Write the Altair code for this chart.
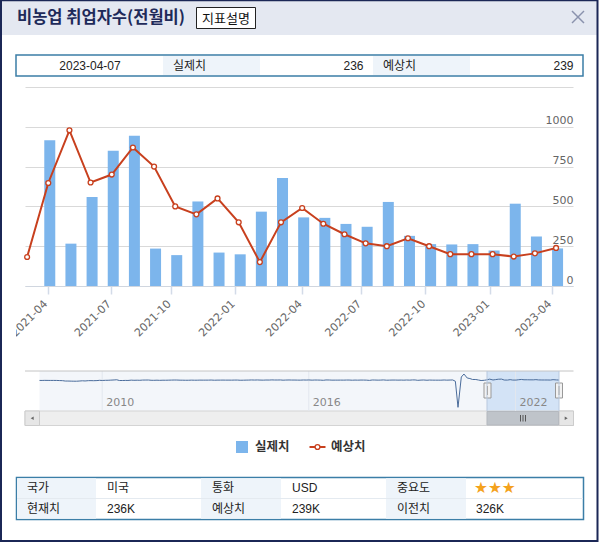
import altair as alt
import numpy as np
import pandas as pd

# ---------------------------------------------------------------------------
# Nonfarm payrolls, monthly change (thousands), indexed by release date
# ---------------------------------------------------------------------------
release_dates = [
    "2021-03-05", "2021-04-02", "2021-05-07", "2021-06-04", "2021-07-02",
    "2021-08-06", "2021-09-03", "2021-10-08", "2021-11-05", "2021-12-03",
    "2022-01-07", "2022-02-04", "2022-03-04", "2022-04-01", "2022-05-06",
    "2022-06-03", "2022-07-08", "2022-08-05", "2022-09-02", "2022-10-07",
    "2022-11-04", "2022-12-02", "2023-01-06", "2023-02-03", "2023-03-10",
    "2023-04-07",
]
actual = [379, 916, 266, 559, 850, 943, 235, 194, 531, 210,
          199, 467, 678, 431, 428, 390, 372, 528, 315, 263,
          261, 263, 223, 517, 311, 236]
forecast = [182, 647, 978, 650, 700, 870, 750, 500, 450, 550,
            400, 150, 400, 490, 391, 325, 268, 250, 300, 250,
            200, 200, 200, 185, 205, 239]
previous_value = 326

# Navigator history, one value per monthly release (Mar 2008 .. Feb 2021)
nav_2008 = [-63, -80, -20, -49, -62, -51, -84, -159, -240, -533]
nav_2009 = [-524, -598, -651, -663, -539, -345, -467, -247, -216, -263, -190, 11]
nav_2010 = [-85, 20, 36, 162, 290, 431, -125, -131, -54, -95, 151, 39]
nav_2011 = [103, 36, 192, 216, 244, 54, 18, 117, 0, 103, 80, 120]
nav_2012 = [200, 243, 227, 120, 115, 69, 80, 163, 96, 114, 171, 146]
nav_2013 = [155, 157, 236, 88, 165, 175, 195, 162, 169, 148, 204, 203]
nav_2014 = [74, 113, 175, 192, 288, 217, 288, 209, 142, 248, 214, 321]
nav_2015 = [252, 257, 295, 126, 223, 280, 223, 215, 173, 142, 271, 211]
nav_2016 = [292, 151, 242, 215, 160, 38, 287, 255, 151, 156, 161, 178]
nav_2017 = [156, 227, 235, 98, 211, 138, 222, 209, 156, -33, 261, 228]
nav_2018 = [148, 200, 313, 103, 164, 223, 213, 157, 201, 134, 250, 155]
nav_2019 = [312, 304, 20, 196, 263, 75, 224, 164, 130, 136, 128, 266]
nav_2020 = [145, 225, 273, -701, -20500, 2509, 4800, 1763, 1371, 661, 638, 245]
nav_2021 = [-140, 49]

x_tick_labels = ["2021-04", "2021-07", "2021-10", "2022-01", "2022-04",
                 "2022-07", "2022-10", "2023-01", "2023-04"]
nav_year_labels = ["2010", "2016", "2022"]

# ---------------------------------------------------------------------------
# Layout
# ---------------------------------------------------------------------------
OX, OY = 25, 87          # top-left of the main plot area
W, H = 548, 199
FONT = "Liberation Sans, Noto Sans CJK KR"
KFONT = "Noto Sans CJK KR"
AXFONT = "DejaVu Sans"
BAR = "#7cb5ec"
RED = "#c8401e"
BORDER = "#3b7ea7"
CELL = "#eef4fa"

# ---------------------------------------------------------------------------
# Main chart data
# ---------------------------------------------------------------------------
idx = np.arange(len(release_dates)) - 1   # first release sits left of the window
main_df = pd.DataFrame({"idx": idx, "date": release_dates,
                        "actual": actual, "forecast": forecast})

# month-start ticks placed on the ordinal (equally spaced) release axis
rel_ns = pd.to_datetime(release_dates).astype("int64")
tick_dates = pd.to_datetime([lab + "-01" for lab in x_tick_labels]).astype("int64")
tick_pos = [float(v) for v in np.interp(tick_dates, rel_ns, idx)]
label_expr = "".join(
    f"abs(datum.value - ({p:.5f})) < 0.01 ? '{lab}' : "
    for p, lab in zip(tick_pos, x_tick_labels)) + "''"

x_scale = alt.Scale(domain=[-1.1, 24.8], nice=False, zero=False, padding=0)
y_scale = alt.Scale(domain=[0, 1250], nice=False, zero=True, padding=0)

x_axis = alt.Axis(values=tick_pos, labelExpr=label_expr, title=None,
                  labelAngle=-45, labelAlign="right", labelBaseline="middle",
                  labelPadding=8, labelOffset=-2, labelFlush=False,
                  labelOverlap=False, labelFont=AXFONT, labelFontSize=11,
                  labelColor="#666666", tickSize=8, tickWidth=1.5,
                  tickColor="#d3dbe8", domainColor="#d0d6df", grid=False)
y_axis = alt.Axis(orient="right", values=[0, 250, 500, 750, 1000, 1250],
                  format="d", labelExpr="datum.value >= 1250 ? '' : datum.label",
                  title=None, grid=True, gridColor="#d9d9d9", domain=False,
                  ticks=False, tickSize=0, labelAlign="right",
                  labelBaseline="bottom", labelPadding=0, labelOffset=-1,
                  labelFlush=False, labelFont=AXFONT, labelFontSize=11,
                  labelColor="#666666")

base = alt.Chart(main_df)
bars = base.transform_filter("datum.idx >= 0").mark_bar(
    color=BAR, size=11, xOffset=1.5).encode(
    x=alt.X("idx:Q", scale=x_scale, axis=x_axis),
    y=alt.Y("actual:Q", scale=y_scale, axis=y_axis),
)
fc_line = base.mark_line(color=RED, strokeWidth=2).encode(
    x=alt.X("idx:Q", scale=x_scale, axis=x_axis),
    y=alt.Y("forecast:Q", scale=y_scale, axis=y_axis),
)
fc_pts = base.mark_point(filled=True, fill="white", stroke=RED, strokeWidth=1.3,
                         size=24, opacity=1).encode(
    x=alt.X("idx:Q", scale=x_scale, axis=x_axis),
    y=alt.Y("forecast:Q", scale=y_scale, axis=y_axis),
)
main = alt.layer(bars, fc_line, fc_pts)

# ---------------------------------------------------------------------------
# Navigator (full history)
# ---------------------------------------------------------------------------
history = (nav_2008 + nav_2009 + nav_2010 + nav_2011 + nav_2012 + nav_2013 +
           nav_2014 + nav_2015 + nav_2016 + nav_2017 + nav_2018 + nav_2019 +
           nav_2020 + nav_2021)
hist_dates = pd.date_range("2008-03-01", "2021-02-28", freq="WOM-1FRI")
nav_df = pd.DataFrame({
    "date": [d.strftime("%Y-%m-%d") for d in hist_dates] + release_dates,
    "value": history + actual,
})
nav_years = pd.DataFrame({"date": [y + "-01-01" for y in nav_year_labels],
                          "label": nav_year_labels})

nav_x = alt.Scale(range=[39.5 - OX, 559 - OX], nice=False)
nav_y = alt.Scale(domain=[-23300, 7100], range=[411 - OY, 371 - OY],
                  nice=False, zero=False)
nav_grid = alt.Chart(nav_years).mark_rule(color="#e2e7ee", strokeWidth=1).encode(
    x=alt.X("date:T", scale=nav_x, axis=None),
    y=alt.value(371 - OY), y2=alt.value(411 - OY))
nav_text = alt.Chart(nav_years).mark_text(
    align="left", baseline="middle", dx=4, font=AXFONT, fontSize=11,
    color="#888888").encode(
    x=alt.X("date:T", scale=nav_x, axis=None),
    y=alt.value(403 - OY), text="label:N")
nav_line = alt.Chart(nav_df).mark_line(color="#4a6c9b", strokeWidth=1).encode(
    x=alt.X("date:T", scale=nav_x, axis=None),
    y=alt.Y("value:Q", scale=nav_y, axis=None))
navigator = alt.layer(nav_grid, nav_text, nav_line)


# ---------------------------------------------------------------------------
# Window chrome helpers (pixel positions, absolute page coordinates)
# ---------------------------------------------------------------------------
def rect_layer(rows):
    df = pd.DataFrame(rows, columns=["x", "x2", "y", "y2", "fill", "stroke", "sw"])
    df[["x", "x2"]] -= OX
    df[["y", "y2"]] -= OY
    return alt.Chart(df).mark_rect().encode(
        x=alt.X("x:Q", scale=None), x2="x2:Q",
        y=alt.Y("y:Q", scale=None), y2="y2:Q",
        fill=alt.Fill("fill:N", scale=None),
        stroke=alt.Stroke("stroke:N", scale=None),
        strokeWidth=alt.StrokeWidth("sw:Q", scale=None))


def rule_layer(rows):
    df = pd.DataFrame(rows, columns=["x", "x2", "y", "y2", "color", "sw"])
    df[["x", "x2"]] -= OX
    df[["y", "y2"]] -= OY
    return alt.Chart(df).mark_rule().encode(
        x=alt.X("x:Q", scale=None), x2="x2:Q",
        y=alt.Y("y:Q", scale=None), y2="y2:Q",
        color=alt.Color("color:N", scale=None),
        strokeWidth=alt.StrokeWidth("sw:Q", scale=None))


def text_layer(rows, align="left", weight="normal", font=FONT):
    df = pd.DataFrame(rows, columns=["x", "y", "text", "size", "color"])
    df["x"] -= OX
    df["y"] -= OY
    return alt.Chart(df).mark_text(
        align=align, baseline="middle", font=font, fontWeight=weight).encode(
        x=alt.X("x:Q", scale=None), y=alt.Y("y:Q", scale=None),
        text="text:N", size=alt.Size("size:Q", scale=None),
        color=alt.Color("color:N", scale=None))


NONE = "transparent"
back = rect_layer([
    (2, 597, 1, 35, "#e4e8f1", NONE, 0),                 # title bar
    (196.5, 255.5, 7.5, 28.5, "#ffffff", "#222222", 1),  # help button
    (16, 583, 55, 76, "#ffffff", BORDER, 1.5),           # latest release box
    (163, 260, 56, 75, CELL, NONE, 0),
    (373, 470, 56, 75, CELL, NONE, 0),
    (16.5, 583.5, 477.5, 519.5, "#ffffff", BORDER, 1.5),  # summary table
    (17, 96, 478.3, 498, CELL, NONE, 0),
    (201, 281, 478.3, 498, CELL, NONE, 0),
    (386, 466, 478.3, 498, CELL, NONE, 0),
    (17, 96, 499, 518.7, CELL, NONE, 0),
    (201, 281, 499, 518.7, CELL, NONE, 0),
    (386, 466, 499, 518.7, CELL, NONE, 0),
    (39.5, 559, 371, 411, "#f3f6fa", NONE, 0),           # navigator background
    (487, 559, 371, 411, "#d3e3f6", NONE, 0),            # selected range
    (25, 573.5, 411, 425.5, "#eeeeee", "#d4d4d4", 1),    # scrollbar track
    (25, 39.5, 411, 425.5, "#e6e6e6", "#cccccc", 1),
    (559, 573.5, 411, 425.5, "#e6e6e6", "#cccccc", 1),
    (487, 558.6, 411.5, 425, "#bfc4ca", "#b4b8be", 1),   # scrollbar thumb
    (236, 248, 441, 453, BAR, NONE, 0),                  # legend swatch
])

front = rect_layer([
    (2, 16, 288, 352, "#ffffff", NONE, 0),               # chart container edge
    (484, 491, 383, 398, "#f2f2f2", "#999999", 1),       # range handles
    (555.5, 562.5, 383, 398, "#f2f2f2", "#999999", 1),
])

lines = rule_layer([
    (1, 1, 0, 542, "#1b2756", 2),                        # dialog frame
    (597.5, 597.5, 0, 542, "#1b2756", 2),
    (0, 598, 0.5, 0.5, "#1b2756", 1.5),
    (0, 598, 541, 541, "#1b2756", 2),
    (572, 584, 11, 23, "#8a92ad", 1.5),                  # close button
    (572, 584, 23, 11, "#8a92ad", 1.5),
    (25, 573.5, 371, 371, "#c4c4c4", 1),                 # navigator outline
    (487, 487, 371, 411, "#b9c9de", 1),
    (559, 559, 371, 411, "#b9c9de", 1),
    (487.5, 487.5, 386, 395, "#aaaaaa", 1),              # handle grips
    (559, 559, 386, 395, "#aaaaaa", 1),
    (520.5, 520.5, 415, 421.5, "#555555", 1),            # thumb grip
    (523, 523, 415, 421.5, "#555555", 1),
    (525.5, 525.5, 415, 421.5, "#555555", 1),
    (17, 583, 498.5, 498.5, "#e4eaf0", 1),               # table row divider
    (309.5, 325.5, 447, 447, RED, 2),                    # legend line symbol
])

marker_df = pd.DataFrame({"x": [317.5 - OX], "y": [447 - OY]})
legend_marker = alt.Chart(marker_df).mark_point(
    filled=True, fill="white", stroke=RED, strokeWidth=1.3, size=24, opacity=1).encode(
    x=alt.X("x:Q", scale=None), y=alt.Y("y:Q", scale=None))

arrow_df = pd.DataFrame({"x": [32.2 - OX, 566.2 - OX], "y": [418.3 - OY] * 2,
                         "shape": ["triangle-left", "triangle-right"]})
arrows = alt.Chart(arrow_df).mark_point(
    filled=True, color="#666666", size=12, opacity=1).encode(
    x=alt.X("x:Q", scale=None), y=alt.Y("y:Q", scale=None),
    shape=alt.Shape("shape:N", scale=None))

latest_actual = actual[-1]
latest_forecast = forecast[-1]

title_txt = text_layer([
    (17, 18, "비농업 취업자수(전월비)", 16.5, "#1e2a5a"),
], weight="bold", font=KFONT)
legend_txt = text_layer([
    (255, 447, "실제치", 12.5, "#333333"),
    (331, 447, "예상치", 12.5, "#333333"),
], weight="bold", font=KFONT)
center_txt = text_layer([
    (226, 18.5, "지표설명", 13, "#111111"),
    (90, 65.5, release_dates[-1], 12, "#222222"),
], align="center")
left_txt = text_layer([
    (173, 65.5, "실제치", 12, "#222222"),
    (383, 65.5, "예상치", 12, "#222222"),
    (27, 488.3, "국가", 12, "#222222"),
    (107, 488.3, "미국", 12, "#222222"),
    (212, 488.3, "통화", 12, "#222222"),
    (292, 488.3, "USD", 12, "#222222"),
    (397, 488.3, "중요도", 12, "#222222"),
    (27, 509.3, "현재치", 12, "#222222"),
    (107, 509.3, f"{latest_actual}K", 12, "#222222"),
    (212, 509.3, "예상치", 12, "#222222"),
    (292, 509.3, f"{latest_forecast}K", 12, "#222222"),
    (397, 509.3, "이전치", 12, "#222222"),
    (476, 509.3, f"{previous_value}K", 12, "#222222"),
])
stars_txt = text_layer([
    (474, 488, "★★★", 15.5, "#f4a21d"),
], font="DejaVu Sans")
right_txt = text_layer([
    (363.5, 65.5, str(latest_actual), 12, "#222222"),
    (573.5, 65.5, str(latest_forecast), 12, "#222222"),
], align="right")

chart = alt.layer(
    back, main, navigator, front, lines, legend_marker, arrows,
    title_txt, legend_txt, center_txt, left_txt, stars_txt, right_txt,
).resolve_scale(
    x="independent", y="independent"
).properties(
    width=W, height=H,
    padding={"left": OX, "top": OY, "right": 601 - OX - W, "bottom": 545 - OY - H},
    autosize=alt.AutoSizeParams(type="none"),
    background="white",
).configure_view(stroke=None)

chart.save("out.html", embed_options={"renderer": "svg", "actions": False})
